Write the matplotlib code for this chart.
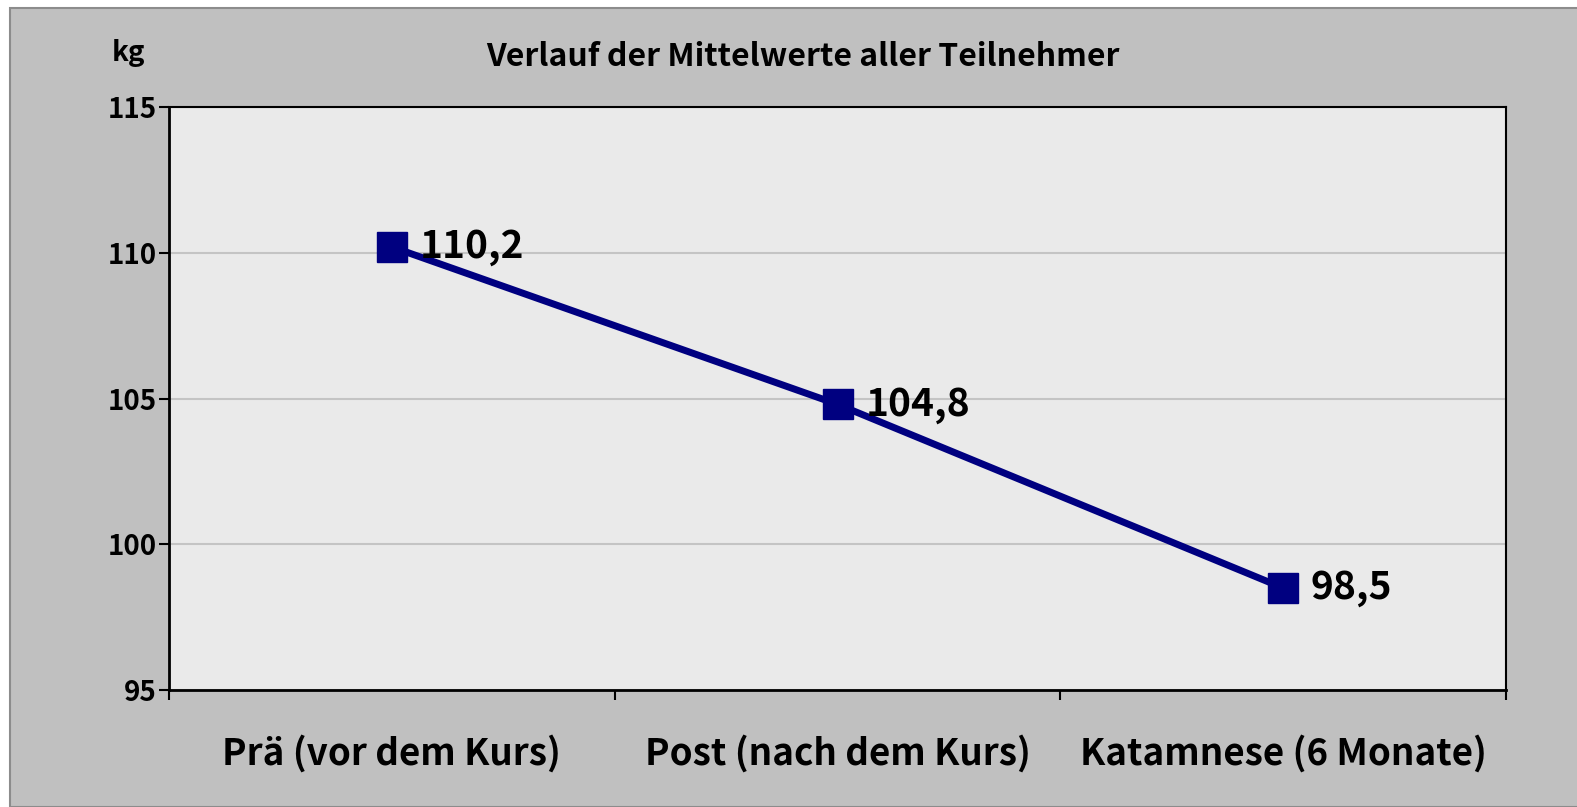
import matplotlib.pyplot as plt
from matplotlib.patches import Rectangle

categories = ["Prä (vor dem Kurs)", "Post (nach dem Kurs)", "Katamnese (6 Monate)"]
mittelwerte = [110.2, 104.8, 98.5]
wert_labels = ["110,2", "104,8", "98,5"]
y_ticks = [95, 100, 105, 110, 115]

plt.rcParams['font.family'] = ['Noto Sans CJK JP', 'DejaVu Sans']
plt.rcParams['font.weight'] = 'bold'

W, H = 1577, 807
fig = plt.figure(figsize=(W / 100, H / 100), dpi=100)
fig.patch.set_facecolor('white')

# grey chart area with a thin darker frame (cut at right/bottom)
fig.patches.append(Rectangle((10 / W, 0), 1.0, 1 - 8 / H, transform=fig.transFigure,
                             facecolor='#C0C0C0', edgecolor='#8C8C8C', linewidth=1.5, zorder=-1))

ax = fig.add_axes([169 / W, 1 - 690 / H, (1506 - 169) / W, (690 - 107) / H])
ax.set_facecolor('#EAEAEA')

x = list(range(len(categories)))
ax.plot(x, mittelwerte, color='#000080', linewidth=5, marker='s', markersize=21,
        markeredgecolor='#000080', markerfacecolor='#000080', zorder=3, clip_on=False)

for xi, yi, lab in zip(x, mittelwerte, wert_labels):
    ax.annotate(lab, (xi, yi), xytext=(20, 0), textcoords='offset points',
                ha='left', va='center', fontsize=28, fontweight='bold', color='black')

ax.set_ylim(95, 115)
ax.set_yticks(y_ticks)
ax.set_yticklabels([str(t) for t in y_ticks], fontsize=20, fontweight='bold')
ax.set_xlim(-0.5, len(categories) - 0.5)

# category boundaries as tick marks, labels at the centres without ticks
ax.set_xticks([i - 0.5 for i in range(len(categories) + 1)])
ax.set_xticklabels([])
ax.set_xticks(x, minor=True)
ax.set_xticklabels(categories, minor=True, fontsize=26.5, fontweight='bold')
ax.tick_params(axis='x', which='major', length=7, width=1.5, direction='out')
ax.tick_params(axis='x', which='minor', length=0, pad=32)
ax.tick_params(axis='y', length=7, width=1.5, direction='out', pad=2)

ax.yaxis.grid(True, color='#C4C4C4', linewidth=1.5)
ax.set_axisbelow(True)
for side in ['left', 'bottom']:
    ax.spines[side].set_linewidth(2)
for side in ['top', 'right']:
    ax.spines[side].set_linewidth(1.5)

fig.text(803 / W, 1 - 57 / H, "Verlauf der Mittelwerte aller Teilnehmer",
         ha='center', va='center', fontsize=23, fontweight='bold')
fig.text(128 / W, 1 - 53 / H, "kg", ha='center', va='center', fontsize=20, fontweight='bold')

fig.savefig('out.png', dpi=100, facecolor=fig.get_facecolor())
